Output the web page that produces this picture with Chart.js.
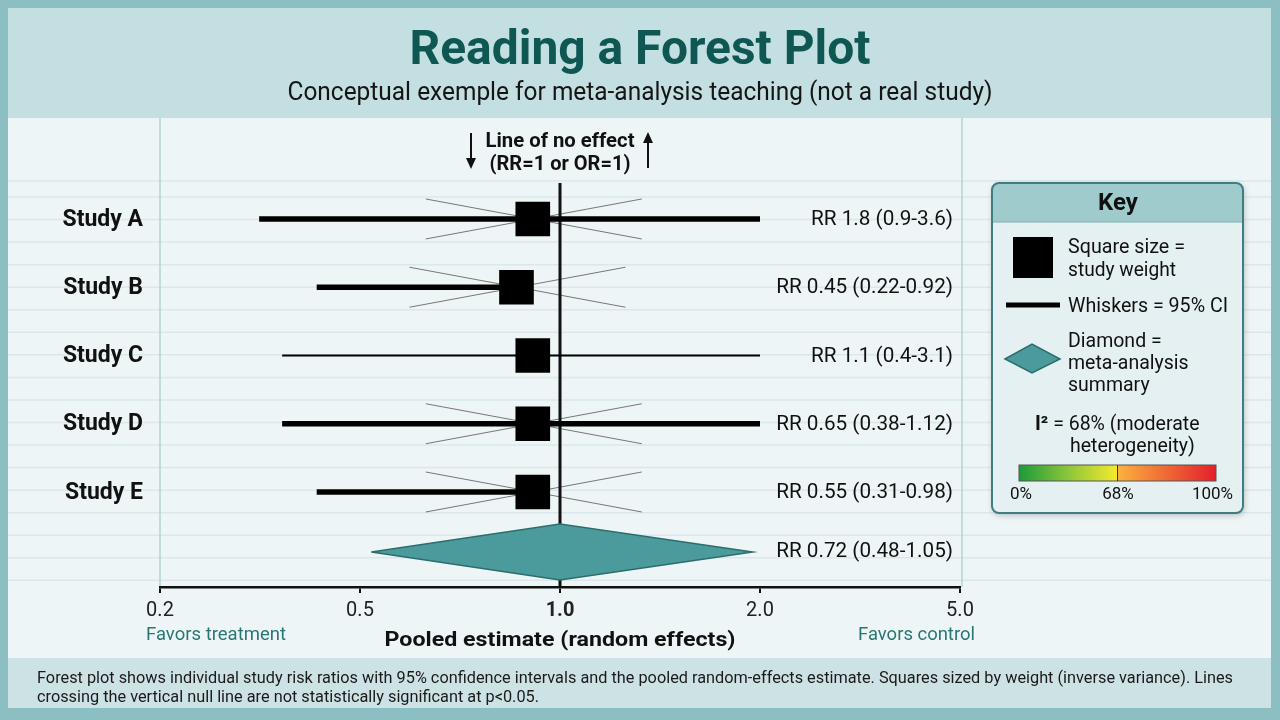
<!DOCTYPE html>
<html>
<head>
<meta charset="utf-8">
<title>Reading a Forest Plot</title>
<script src="https://cdn.jsdelivr.net/npm/chart.js@4.4.1/dist/chart.umd.min.js"></script>
<style>
  html, body { margin: 0; padding: 0; background: #8cbfc2; }
  canvas { display: block; }
</style>
</head>
<body>
<canvas id="forestCanvas" width="1280" height="720"></canvas>
<script>
// axis ticks (evenly spaced on the page)
const tickValues = [0.2, 0.5, 1.0, 2.0, 5.0];
const tickLabels = ['0.2', '0.5', '1.0', '2.0', '5.0'];

// studies, as drawn on the picture
const studies = ['Study A', 'Study B', 'Study C', 'Study D', 'Study E'];
const estimates = [0.91, 0.86, 0.91, 0.91, 0.91];
const lowerCI = [0.315, 0.41, 0.35, 0.35, 0.41];
const upperCI = [2.0, 0.86, 2.0, 2.0, 0.91];
const rrLabels = [
  'RR 1.8 (0.9-3.6)',
  'RR 0.45 (0.22-0.92)',
  'RR 1.1 (0.4-3.1)',
  'RR 0.65 (0.38-1.12)',
  'RR 0.55 (0.31-0.98)'
];
const thinStudies = ['Study C'];

// pooled (diamond)
const pooledEstimate = 1.0;
const pooledLower = 0.52;
const pooledUpper = 1.95;
const pooledLabel = 'RR 0.72 (0.48-1.05)';
const pooledRow = 4.88;

const noteLines = [
  'Forest plot shows individual study risk ratios with 95% confidence intervals and the pooled random-effects estimate. Squares sized by weight (inverse variance). Lines',
  'crossing the vertical null line are not statistically significant at p<0.05.'
];

// RR -> position on the evenly spaced tick axis (log inside each segment)
function toAxis(rr) {
  for (let i = 0; i < tickValues.length - 1; i++) {
    const a = tickValues[i], b = tickValues[i + 1];
    if (rr <= b || i === tickValues.length - 2) {
      return i + Math.log(rr / a) / Math.log(b / a);
    }
  }
}

// text squeezed to a given width (reference uses a narrow face)
function fitText(ctx, text, x, y, align, width) {
  const w = ctx.measureText(text).width;
  const sx = width ? Math.min(1.15, width / w) : 1;
  ctx.save();
  ctx.translate(x, y);
  ctx.scale(sx, 1);
  ctx.textAlign = align;
  ctx.fillText(text, 0, 0);
  ctx.restore();
}

const datasets = [];

// line of no effect
datasets.push({
  data: [
    { x: toAxis(1), y: -0.527 },
    { x: toAxis(1), y: pooledRow - 0.41 },
    { x: toAxis(1), y: null },
    { x: toAxis(1), y: pooledRow + 0.41 },
    { x: toAxis(1), y: 5.392 }
  ],
  borderColor: '#111',
  borderWidth: 3,
  pointRadius: 0,
  spanGaps: false,
  order: 4
});

// whiskers
studies.forEach((s, i) => {
  datasets.push({
    data: [{ x: toAxis(lowerCI[i]), y: i }, { x: toAxis(upperCI[i]), y: i }],
    borderColor: '#000',
    borderWidth: thinStudies.includes(s) ? 2 : 5.5,
    borderCapStyle: 'butt',
    pointRadius: 0,
    order: 2
  });
});

// squares
datasets.push({
  data: estimates.map((e, i) => ({ x: toAxis(e), y: i })),
  showLine: false,
  pointStyle: 'rect',
  pointRadius: 24.5,
  pointBackgroundColor: '#000',
  pointBorderColor: '#000',
  pointBorderWidth: 0,
  order: 0
});

// diamond
datasets.push({
  data: [
    { x: toAxis(pooledLower), y: pooledRow },
    { x: toAxis(pooledEstimate), y: pooledRow - 0.41 },
    { x: toAxis(pooledUpper), y: pooledRow },
    { x: toAxis(pooledEstimate), y: pooledRow + 0.41 },
    { x: toAxis(pooledLower), y: pooledRow }
  ],
  borderColor: '#2c6d6e',
  borderWidth: 1.5,
  backgroundColor: '#4c9b9c',
  fill: 'shape',
  tension: 0,
  pointRadius: 0,
  order: 3
});

const pagePlugin = {
  id: 'page',
  beforeDraw(chart) {
    const ctx = chart.ctx;
    ctx.save();
    ctx.fillStyle = '#8cbfc2';
    ctx.fillRect(0, 0, 1280, 720);
    ctx.fillStyle = '#c3dfe1';
    ctx.fillRect(8, 8, 1263, 110);
    ctx.fillStyle = '#eef5f6';
    ctx.fillRect(8, 118, 1263, 540);
    ctx.fillStyle = '#cde2e4';
    ctx.fillRect(8, 658, 1263, 50);

    // notebook stripes
    ctx.strokeStyle = '#dae8ea';
    ctx.lineWidth = 1.5;
    const ys = [181];
    for (let y = 197; y < 590; y += 22.55) ys.push(y);
    ys.forEach(y => {
      ctx.beginPath();
      ctx.moveTo(8, y);
      ctx.lineTo(1271, y);
      ctx.stroke();
    });
    ctx.strokeStyle = '#b3d3d6';
    [160, 962].forEach(x => {
      ctx.beginPath();
      ctx.moveTo(x, 118);
      ctx.lineTo(x, 587);
      ctx.stroke();
    });

    // title & subtitle
    ctx.textBaseline = 'alphabetic';
    ctx.fillStyle = '#0f5753';
    ctx.font = 'bold 48px Roboto';
    fitText(ctx, 'Reading a Forest Plot', 640, 64, 'center', 461);
    ctx.fillStyle = '#151515';
    ctx.font = '25px Roboto';
    fitText(ctx, 'Conceptual exemple for meta-analysis teaching (not a real study)', 640, 100, 'center', 705);

    // note
    ctx.fillStyle = '#1a1a1a';
    ctx.font = '17px Roboto';
    fitText(ctx, noteLines[0], 37, 683, 'left', 1196);
    fitText(ctx, noteLines[1], 37, 702, 'left', 502);
    ctx.restore();
  },
  beforeDatasetsDraw(chart) {
    const ctx = chart.ctx;
    const xs = chart.scales.x, ys = chart.scales.y;
    ctx.save();
    ctx.strokeStyle = '#777';
    ctx.lineWidth = 1;
    studies.forEach((s, i) => {
      if (thinStudies.includes(s)) return;
      const cx = xs.getPixelForValue(toAxis(estimates[i])) + 1;
      const cy = ys.getPixelForValue(i);
      ctx.beginPath();
      ctx.moveTo(cx - 108, cy - 20);
      ctx.lineTo(cx + 108, cy + 20);
      ctx.moveTo(cx - 108, cy + 20);
      ctx.lineTo(cx + 108, cy - 20);
      ctx.stroke();
    });
    ctx.restore();
  },
  afterDraw(chart) {
    const ctx = chart.ctx;
    const xs = chart.scales.x, ys = chart.scales.y;
    ctx.save();
    ctx.textBaseline = 'middle';

    // study names and RR labels
    studies.forEach((s, i) => {
      const y = ys.getPixelForValue(i) + 1;
      ctx.fillStyle = '#111';
      ctx.font = 'bold 23px Roboto';
      fitText(ctx, s, 143, y, 'right', null);
      ctx.font = '20.7px Roboto';
      fitText(ctx, rrLabels[i], 953, y, 'right', null);
    });
    ctx.font = '20.7px Roboto';
    fitText(ctx, pooledLabel, 953, ys.getPixelForValue(pooledRow), 'right', null);

    // line of no effect caption
    const nx = xs.getPixelForValue(toAxis(1));
    ctx.textBaseline = 'alphabetic';
    ctx.font = 'bold 20px Roboto';
    fitText(ctx, 'Line of no effect', nx, 147, 'center', 149);
    fitText(ctx, '(RR=1 or OR=1)', nx, 170, 'center', 141);
    ctx.strokeStyle = '#111';
    ctx.fillStyle = '#111';
    ctx.lineWidth = 2;
    ctx.beginPath(); ctx.moveTo(471, 133); ctx.lineTo(471, 160); ctx.stroke();
    ctx.beginPath(); ctx.moveTo(466, 158); ctx.lineTo(476, 158); ctx.lineTo(471, 169); ctx.closePath(); ctx.fill();
    ctx.beginPath(); ctx.moveTo(648, 168); ctx.lineTo(648, 141); ctx.stroke();
    ctx.beginPath(); ctx.moveTo(643, 143); ctx.lineTo(653, 143); ctx.lineTo(648, 132); ctx.closePath(); ctx.fill();

    // axis captions
    ctx.fillStyle = '#2a7772';
    ctx.font = '19px Roboto';
    fitText(ctx, 'Favors treatment', 146, 640, 'left', 140);
    fitText(ctx, 'Favors control', 975, 640, 'right', 117);
    ctx.fillStyle = '#111';
    ctx.font = 'bold 21px Roboto';
    fitText(ctx, 'Pooled estimate (random effects)', nx, 646, 'center', 351);

    // key box
    const bx = 992, by = 183, bw = 251, bh = 330;
    ctx.save();
    ctx.shadowColor = 'rgba(0,0,0,0.25)';
    ctx.shadowBlur = 6;
    ctx.shadowOffsetX = 1;
    ctx.shadowOffsetY = 2;
    ctx.fillStyle = '#e4f0f1';
    ctx.beginPath(); ctx.roundRect(bx, by, bw, bh, 7); ctx.fill();
    ctx.restore();
    ctx.save();
    ctx.beginPath(); ctx.roundRect(bx, by, bw, bh, 7); ctx.clip();
    ctx.fillStyle = '#a0cbcc';
    ctx.fillRect(bx, by, bw, 39);
    ctx.restore();
    ctx.strokeStyle = '#7fb0b2';
    ctx.lineWidth = 1;
    ctx.beginPath(); ctx.moveTo(bx, by + 39); ctx.lineTo(bx + bw, by + 39); ctx.stroke();
    ctx.strokeStyle = '#3f7e80';
    ctx.lineWidth = 2;
    ctx.beginPath(); ctx.roundRect(bx, by, bw, bh, 7); ctx.stroke();

    ctx.fillStyle = '#111';
    ctx.font = 'bold 24px Roboto';
    fitText(ctx, 'Key', 1118, 210, 'center', null);

    ctx.fillStyle = '#000';
    ctx.fillRect(1013, 237, 40, 41);
    ctx.fillStyle = '#111';
    ctx.font = '19.5px Roboto';
    fitText(ctx, 'Square size =', 1068, 253, 'left', 117);
    fitText(ctx, 'study weight', 1068, 276, 'left', 108);

    ctx.strokeStyle = '#000';
    ctx.lineWidth = 5;
    ctx.beginPath(); ctx.moveTo(1006, 305); ctx.lineTo(1060, 305); ctx.stroke();
    fitText(ctx, 'Whiskers = 95% CI', 1068, 312, 'left', 160);

    ctx.fillStyle = '#4c9b9c';
    ctx.strokeStyle = '#2c6d6e';
    ctx.lineWidth = 1.5;
    ctx.beginPath();
    ctx.moveTo(1005, 359); ctx.lineTo(1032, 344); ctx.lineTo(1060, 359); ctx.lineTo(1032, 373);
    ctx.closePath(); ctx.fill(); ctx.stroke();
    ctx.fillStyle = '#111';
    fitText(ctx, 'Diamond =', 1068, 347, 'left', null);
    fitText(ctx, 'meta-analysis', 1068, 369, 'left', null);
    fitText(ctx, 'summary', 1068, 391, 'left', null);

    ctx.font = 'bold 20px Roboto';
    ctx.textAlign = 'left';
    ctx.fillText('I²', 1035, 430);
    const iw = ctx.measureText('I²').width;
    ctx.font = '19.5px Roboto';
    ctx.fillText(' = 68% (moderate', 1035 + iw, 430);
    ctx.fillText('heterogeneity)', 1070, 452);

    const gx = 1019, gy = 465, gw = 197, gh = 16;
    const grad = ctx.createLinearGradient(gx, 0, gx + gw, 0);
    grad.addColorStop(0, '#1c9a3b');
    grad.addColorStop(0.25, '#8cc63a');
    grad.addColorStop(0.5, '#f6ea2c');
    grad.addColorStop(0.5, '#fbb23f');
    grad.addColorStop(1, '#e31f2b');
    ctx.fillStyle = grad;
    ctx.fillRect(gx, gy, gw, gh);
    ctx.strokeStyle = '#555';
    ctx.lineWidth = 1;
    ctx.strokeRect(gx, gy, gw, gh);
    ctx.strokeStyle = '#333';
    ctx.beginPath(); ctx.moveTo(gx + gw / 2, gy); ctx.lineTo(gx + gw / 2, gy + gh); ctx.stroke();
    ctx.fillStyle = '#111';
    ctx.font = '17px Roboto';
    fitText(ctx, '0%', 1021, 499, 'center', null);
    fitText(ctx, '68%', 1118, 499, 'center', null);
    fitText(ctx, '100%', 1233, 499, 'right', null);

    ctx.restore();
  }
};

Chart.defaults.font.family = 'Roboto';

new Chart(document.getElementById('forestCanvas'), {
  type: 'line',
  data: { datasets },
  options: {
    responsive: false,
    animation: false,
    devicePixelRatio: 1,
    layout: { padding: { left: 160, right: 320, top: 160, bottom: 93 } },
    plugins: { legend: { display: false }, tooltip: { enabled: false } },
    scales: {
      x: {
        type: 'linear',
        min: 0,
        max: tickLabels.length - 1,
        afterBuildTicks: s => { s.ticks = tickLabels.map((_, i) => ({ value: i })); },
        afterFit: s => { s.height = 40; },
        ticks: {
          callback: v => tickLabels[v],
          color: '#222',
          padding: 6,
          maxRotation: 0,
          autoSkip: false,
          font: c => ({ size: 20, weight: c.tick && c.tick.value === 2 ? 'bold' : 'normal' })
        },
        grid: { drawOnChartArea: false, color: '#111', lineWidth: 2, tickLength: 6 },
        border: { color: '#111', width: 2.5 }
      },
      y: { type: 'linear', reverse: true, min: -0.864, max: 5.392, display: false }
    }
  },
  plugins: [pagePlugin]
});
</script>
</body>
</html>
